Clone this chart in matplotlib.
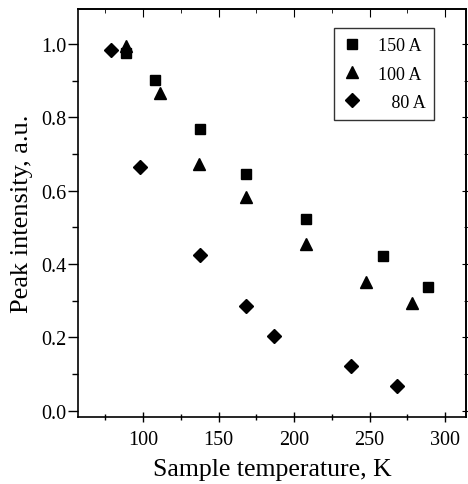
import matplotlib.pyplot as plt
from matplotlib.ticker import MultipleLocator

plt.rcParams['font.family'] = ['Liberation Serif', 'DejaVu Serif']

# Peak intensity vs sample temperature
t_150 = [89, 108, 138, 168, 208, 259, 289]
i_150 = [0.975, 0.902, 0.768, 0.645, 0.523, 0.422, 0.338]

t_100 = [89, 111, 137, 168, 208, 248, 278]
i_100 = [0.995, 0.866, 0.672, 0.583, 0.455, 0.352, 0.294]

t_80 = [79, 98, 138, 168, 187, 238, 268]
i_80 = [0.985, 0.665, 0.425, 0.286, 0.205, 0.121, 0.068]

labels = ['150 A', '100 A', '\u2007 80 A']

fig = plt.figure(figsize=(4.68, 4.85), dpi=100)
ax = fig.add_axes([0.167, 0.138, 0.829, 0.841])

ax.plot(t_150, i_150, 's', color='black', ms=7.5, ls='none', label=labels[0])
ax.plot(t_100, i_100, '^', color='black', ms=8.5, ls='none', label=labels[1])
ax.plot(t_80, i_80, 'D', color='black', ms=7, ls='none', label=labels[2])

ax.set_xlim(57, 314)
ax.set_ylim(-0.017, 1.095)
ax.xaxis.set_major_locator(MultipleLocator(50))
ax.xaxis.set_minor_locator(MultipleLocator(25))
ax.yaxis.set_major_locator(MultipleLocator(0.2))
ax.yaxis.set_minor_locator(MultipleLocator(0.1))
ax.yaxis.set_major_formatter(plt.FuncFormatter(lambda v, p: f'{v:.1f}'))

ax.tick_params(axis='x', which='both', direction='inout', top=False, labelsize=14.5, pad=6)
ax.tick_params(axis='y', which='both', direction='out', right=False, labelsize=14.5, pad=1.5)
ax.tick_params(which='major', length=7, width=1)
ax.tick_params(which='minor', length=4, width=1)

# top and right ticks point differently, so give them their own axes
secx = ax.secondary_xaxis('top')
secx.xaxis.set_major_locator(MultipleLocator(50))
secx.xaxis.set_minor_locator(MultipleLocator(25))
secx.tick_params(which='both', direction='in', labeltop=False)
secx.tick_params(which='major', length=6)
secx.tick_params(which='minor', length=3)

secy = ax.secondary_yaxis('right')
secy.yaxis.set_major_locator(MultipleLocator(0.2))
secy.yaxis.set_minor_locator(MultipleLocator(0.1))
secy.tick_params(which='both', direction='inout', labelright=False)
secy.tick_params(which='major', length=6)
secy.tick_params(which='minor', length=3)

for a in (ax, secx, secy):
    for sp in a.spines.values():
        sp.set_linewidth(1.2)

ax.set_xlabel('Sample temperature, K', fontsize=18.5, labelpad=6)
ax.set_ylabel('Peak intensity, a.u.', fontsize=19, labelpad=6)

leg = ax.legend(loc='upper right', bbox_to_anchor=(0.918, 0.953), fontsize=13,
                frameon=True, fancybox=False, edgecolor='black',
                handletextpad=0.9, borderpad=0.5, labelspacing=0.62, handlelength=1.0,
                borderaxespad=0)
leg.get_frame().set_linewidth(1)

fig.savefig('out.png', dpi=100)
